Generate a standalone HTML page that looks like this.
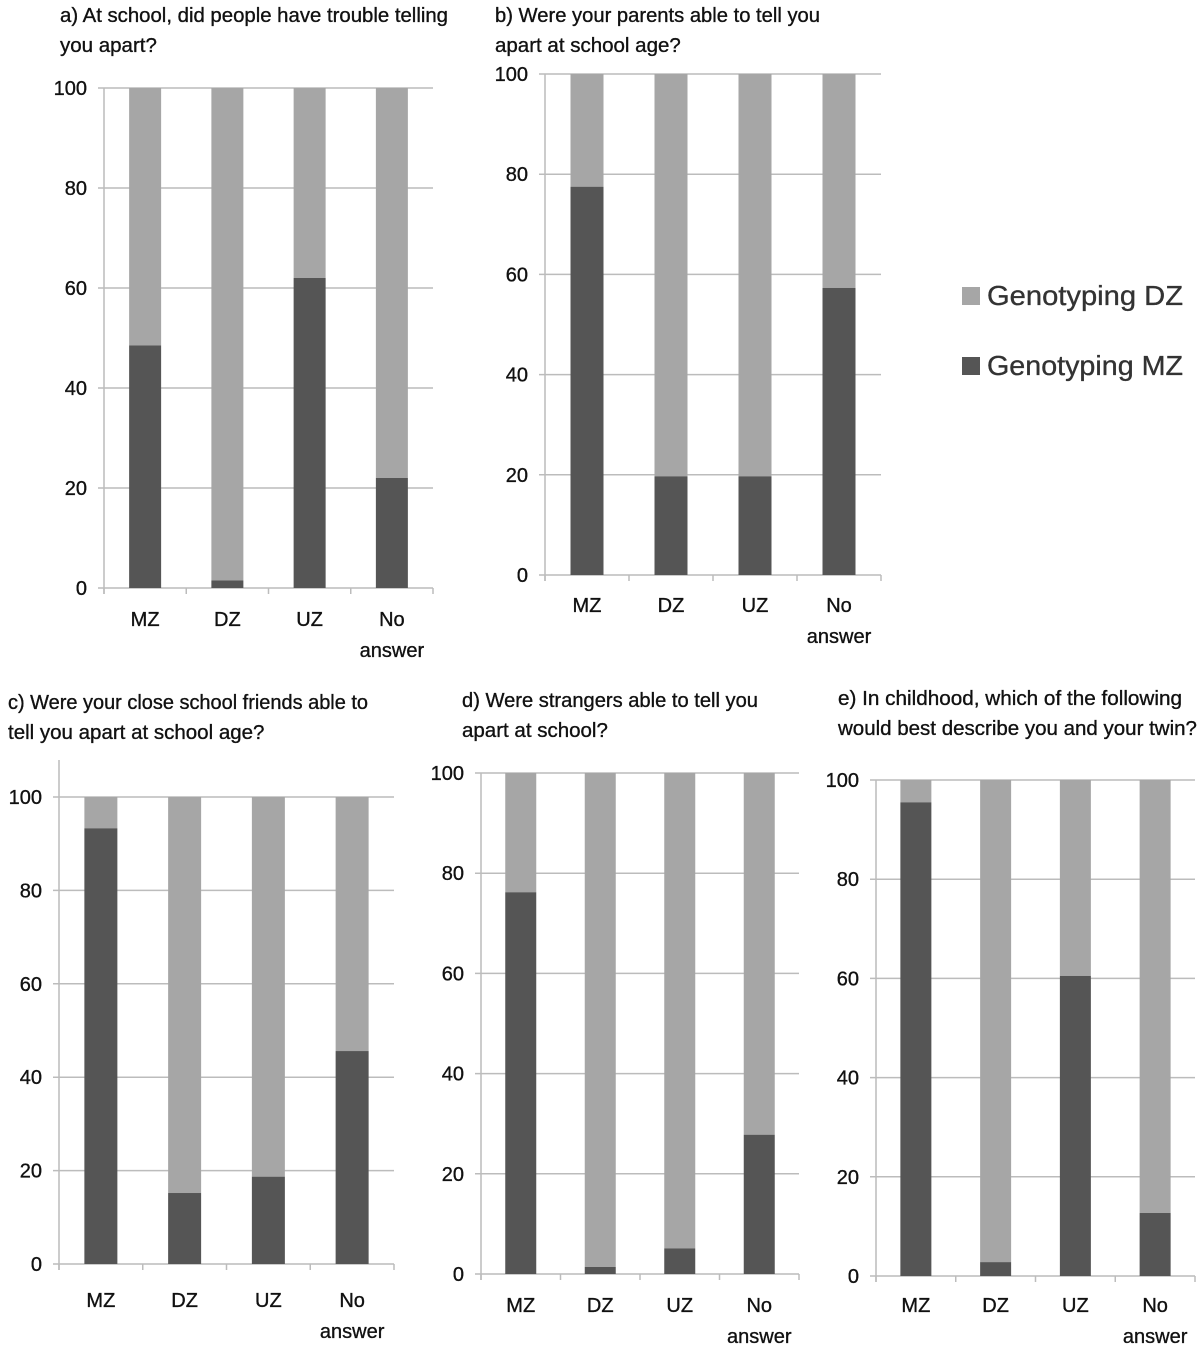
<!DOCTYPE html>
<html><head><meta charset="utf-8"><style>
body{margin:0;background:#fff;}
svg{display:block;font-family:"Liberation Sans",sans-serif;}
svg text{fill:#111;stroke:#111;stroke-width:0.35px;}
</style></head><body>
<svg id="fig" width="1200" height="1350"></svg>
<script>
const categories = ["MZ","DZ","UZ","No answer"];
const yTicks = [0,20,40,60,80,100];
const mzA = [48.5,1.5,62,22];
const mzB = [77.5,19.7,19.7,57.3];
const mzC = [93.3,15.2,18.7,45.6];
const mzD = [76.2,1.4,5.1,27.8];
const mzE = [95.5,2.8,60.5,12.7];
const titleA = ["a) At school, did people have trouble telling","you apart?"];
const titleB = ["b) Were your parents able to tell you","apart at school age?"];
const titleC = ["c) Were your close school friends able to","tell you apart at school age?"];
const titleD = ["d) Were strangers able to tell you","apart at school?"];
const titleE = ["e) In childhood, which of the following","would best describe you and your twin?"];

const NS="http://www.w3.org/2000/svg";
const svg=document.getElementById('fig');
function mk(tag,attrs,parent){const e=document.createElementNS(NS,tag);for(const k in attrs)e.setAttribute(k,attrs[k]);(parent||svg).appendChild(e);return e;}

const panels=[
 {id:'a',vals:mzA,title:titleA,tx:60,ty:22,tw:388,x0:104,x1:433,y100:88,y0:588,bw:32,axTop:88,ly:626},
 {id:'b',vals:mzB,title:titleB,tx:495,ty:22,tw:325,x0:545,x1:881,y100:74,y0:575,bw:33,axTop:74,ly:612},
 {id:'c',vals:mzC,title:titleC,tx:8,ty:709,tw:360,x0:59,x1:394,y100:797,y0:1264,bw:33,axTop:760,ly:1307},
 {id:'d',vals:mzD,title:titleD,tx:462,ty:707,tw:296,x0:481,x1:799,y100:773,y0:1274,bw:31,axTop:773,ly:1312},
 {id:'e',vals:mzE,title:titleE,tx:838,ty:705,tw:344,x0:876,x1:1195,y100:780,y0:1276,bw:31,axTop:780,ly:1312}
];

panels.forEach(p=>{
  const g=mk('g',{});
  
  
  const yS=v=>p.y0-(p.y0-p.y100)*v/100;
  const cw=(p.x1-p.x0)/categories.length;
  const xC=i=>p.x0+cw*(i+0.5);
  p.title.forEach((t,i)=>{
    const attrs={x:p.tx,y:p.ty+i*30,'font-size':20.5};
    if(i===0){attrs.textLength=p.tw;attrs.lengthAdjust='spacingAndGlyphs';}
    const e=mk('text',attrs,g);
    
    
    e.textContent=t;
  });
  yTicks.forEach(t=>{
    const y=yS(t);
    const l=mk('line',{x1:p.x0-6,x2:p.x1,y1:y,y2:y,stroke:'#bcbcbc','stroke-width':1.5},g);
    
    
    const e=mk('text',{x:p.x0-17,y:y+7,'font-size':20,'text-anchor':'end'},g);
    
    
    e.textContent=t;
  });
  mk('line',{x1:p.x0,x2:p.x0,y1:p.axTop,y2:p.y0+6,stroke:'#bcbcbc','stroke-width':1.5},g);
  for(let i=0;i<=categories.length;i++){
    const x=p.x0+cw*i;
    mk('line',{x1:x,x2:x,y1:p.y0,y2:p.y0+6,stroke:'#bcbcbc','stroke-width':1.5},g);
  }
  categories.forEach((c,i)=>{
    const v=p.vals[i];
    const bx=xC(i)-p.bw/2;
    const r1=mk('rect',{x:bx,y:yS(100),width:p.bw,height:yS(v)-yS(100),fill:'#a6a6a6'},g);
    
    
    const r2=mk('rect',{x:bx,y:yS(v),width:p.bw,height:p.y0-yS(v),fill:'#555555'},g);
    
    
    const parts=c.split(' ');
    parts.forEach((w,j)=>{
      const e=mk('text',{x:xC(i),y:p.ly+j*31,'font-size':20,'text-anchor':'middle'},g);
      
      
      e.textContent=w;
    });
  });
});

const leg=mk('g',{});


[["Genotyping DZ","#a6a6a6",287],["Genotyping MZ","#555555",357]].forEach(d=>{
  const r=mk('rect',{x:962,y:d[2],width:18,height:18,fill:d[1]},leg);
  
  
  const t=mk('text',{x:987,y:d[2]+18,'font-size':28,textLength:196,lengthAdjust:'spacingAndGlyphs',style:'fill:#333;stroke:#333'},leg);
  
  
  t.textContent=d[0];
});
</script>
</body></html>
